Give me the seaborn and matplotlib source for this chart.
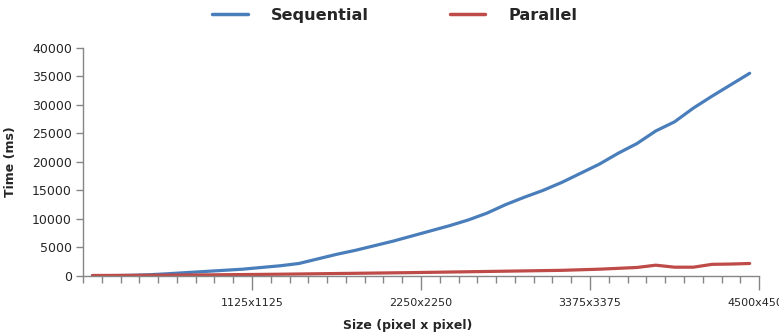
import pandas as pd
import numpy as np
import seaborn as sns
import matplotlib.pyplot as plt
from matplotlib.ticker import FixedLocator

sns.set_style("white")
plt.rcParams['font.family'] = ['DejaVu Sans']

# image sizes (side length in pixels), 125 .. 4500
sizes = [125 * (k + 1) for k in range(36)]

# execution time in ms
sequential = [30, 60, 120, 220, 400, 600, 800, 1000, 1200, 1500, 1800, 2200,
              3000, 3800, 4500, 5300, 6100, 7000, 7900, 8800, 9800, 11000,
              12500, 13800, 15000, 16400, 18000, 19600, 21500, 23200, 25400,
              27000, 29400, 31500, 33500, 35500]
parallel = [100, 110, 120, 140, 160, 180, 200, 230, 260, 290, 320, 360,
            400, 440, 480, 520, 560, 600, 650, 700, 750, 800, 850, 900,
            950, 1000, 1100, 1200, 1350, 1500, 1900, 1550, 1550, 2050,
            2100, 2200]

series_names = ['Sequential', 'Parallel']
palette = {'Sequential': '#4A7EBB', 'Parallel': '#BE4B48'}

df = pd.DataFrame({
    'pos': list(range(len(sizes))) * 2,
    'size': sizes * 2,
    'time': sequential + parallel,
    'series': ['Sequential'] * len(sizes) + ['Parallel'] * len(sizes),
})

fig = plt.figure(figsize=(7.79, 3.35), dpi=100)
ax = fig.add_axes([0.1066, 0.176, 0.8678, 0.682])

sns.lineplot(data=df, x='pos', y='time', hue='series', hue_order=series_names,
             palette=palette, linewidth=2.3, ax=ax, legend=True)

# category axis: ticks between categories, labels every 9th boundary
n = len(sizes)
ax.set_xlim(-0.5, n - 0.5)
major = [i + 0.5 for i in range(8, n, 9)]
ax.xaxis.set_major_locator(FixedLocator(major))
ax.set_xticklabels([f"{sizes[int(p - 0.5)]}x{sizes[int(p - 0.5)]}" for p in major])
ax.xaxis.set_minor_locator(FixedLocator([i - 0.5 for i in range(n + 1)]))
ax.tick_params(axis='x', which='major', length=10, width=1, color='#868686',
               labelsize=8, pad=6, direction='out', bottom=True)
ax.tick_params(axis='x', which='minor', length=5, width=1, color='#868686',
               direction='out', bottom=True)

ax.set_ylim(0, 40000)
ax.set_yticks(range(0, 40001, 5000))
ax.tick_params(axis='y', length=5, width=1, color='#868686', labelsize=9,
               direction='out', left=True, pad=3)

for side in ['top', 'right']:
    ax.spines[side].set_visible(False)
for side in ['left', 'bottom']:
    ax.spines[side].set_color('#868686')
    ax.spines[side].set_linewidth(1)

ax.set_xlabel('Size (pixel x pixel)', fontsize=9, fontweight='bold')
ax.xaxis.set_label_coords(0.48, -0.19)
ax.set_ylabel('Time (ms)', fontsize=9, fontweight='bold')
ax.yaxis.set_label_coords(-0.098, 0.5)

handles, labels = ax.get_legend_handles_labels()
ax.get_legend().remove()
leg = fig.legend(handles, labels, loc='center', bbox_to_anchor=(0.507, 0.955),
                 ncol=2, frameon=False, handlelength=2.2, handletextpad=1.45,
                 columnspacing=5.0, prop={'size': 11.6, 'weight': 'bold'})
for line in leg.get_lines():
    line.set_linewidth(2.5)

fig.savefig('out.png', dpi=100)
